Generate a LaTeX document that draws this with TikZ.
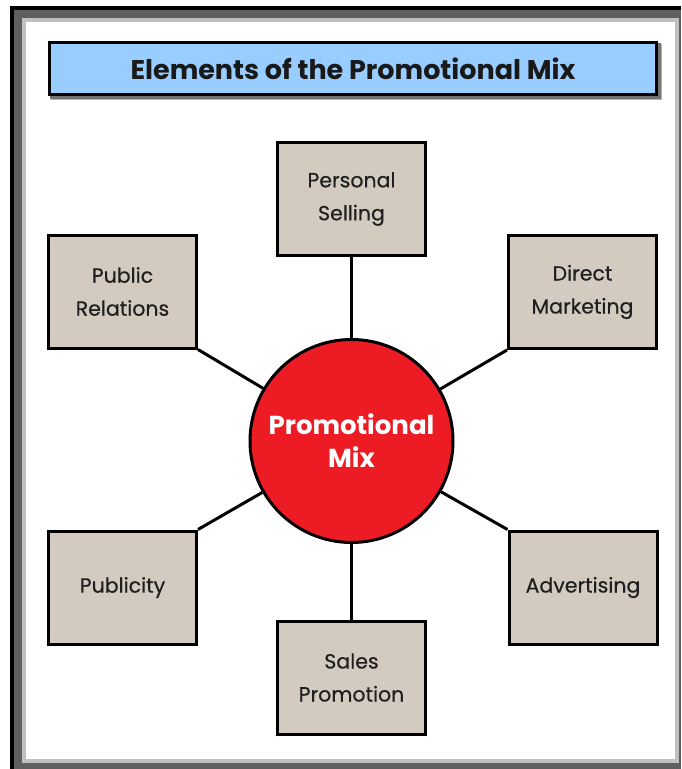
\documentclass[tikz,border=0pt]{standalone}
\usepackage{fontspec}
\setmainfont{Poppins}
\newfontfamily\boxfont{Poppins}[FakeBold=0.5]
\definecolor{boxfill}{HTML}{D4CBC0}
\definecolor{mixred}{HTML}{ED1C24}
\definecolor{titleblue}{HTML}{99CCFF}
\definecolor{framedark}{HTML}{5F5F5F}
\definecolor{framelight}{HTML}{C0C0C0}
\tikzset{
  elembox/.style={draw=black, line width=3pt, fill=boxfill, minimum width=148pt, minimum height=113pt,
    inner sep=0pt, align=center, text=black!88, font=\boxfont\fontsize{20.5}{33}\selectfont},
  mixcircle/.style={circle, draw=black, line width=3pt, fill=mixred, minimum size=203pt, inner sep=0pt,
    align=center, text=white, font=\fontsize{26}{33}\selectfont\bfseries},
  titlebox/.style={draw=black, line width=3pt, fill=titleblue, minimum width=607pt, minimum height=52pt,
    inner sep=0pt, font=\fontsize{27}{30}\selectfont\bfseries, text=black!90},
  link/.style={draw=black, line width=3pt}
}
\begin{document}
\begin{tikzpicture}[x=1pt,y=-1pt]
\useasboundingbox (0,0) rectangle (681,769);
\fill[white] (0,0) rectangle (681,769);
% frame
\fill[black] (10,6) rectangle (681,769);
\fill[framedark] (14,10) rectangle (681,769);
\fill[framelight] (22,18) rectangle (679,763);
\fill[white] (26,22) rectangle (675,759);
% title shadow
\fill[black!30] (51,44) rectangle (662,100);
\fill[black!55] (50,43) rectangle (661,99);
\node[titlebox] (title) at (353,68.5) {Elements of the Promotional Mix};
% centre
\node[mixcircle] (mix) at (351.5,441) {Promotional\\Mix};
% boxes
\node[elembox] (ps) at (351.5,199) {Personal\\Selling};
\node[elembox] (pr) at (122.5,291.5) {Public\\Relations};
\node[elembox] (dm) at (582.5,292) {Direct\\Marketing};
\node[elembox] (pub) at (122.5,587.5) {Publicity};
\node[elembox] (adv) at (583,587.5) {Advertising};
\node[elembox] (sp) at (351.5,677.5) {Sales\\Promotion};
% connectors
\draw[link] (ps.south) -- (mix);
\draw[link] (sp.north) -- (mix);
\draw[link] (pr.south east) -- (mix);
\draw[link] (dm.south west) -- (mix);
\draw[link] (pub.north east) -- (mix);
\draw[link] (adv.north west) -- (mix);
\end{tikzpicture}
\end{document}
